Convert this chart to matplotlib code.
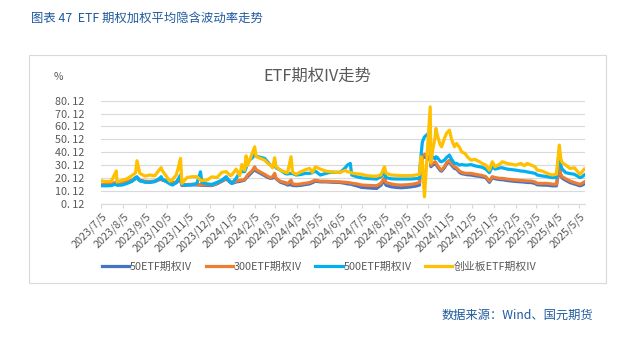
import matplotlib
matplotlib.use("Agg")
import matplotlib.pyplot as plt
from matplotlib.patches import Rectangle
import pandas as pd

plt.rcParams['font.family'] = ['Noto Sans CJK SC', 'DejaVu Sans']

# ---- data ----
dates_2023 = ['2023-07-05', '2023-07-12', '2023-07-19', '2023-07-26', '2023-07-27',
              '2023-08-03', '2023-08-10', '2023-08-17', '2023-08-22', '2023-08-24', '2023-08-28',
              '2023-09-04', '2023-09-11', '2023-09-18', '2023-09-25', '2023-09-27', '2023-09-28',
              '2023-10-09', '2023-10-13', '2023-10-18', '2023-10-20', '2023-10-24', '2023-10-26',
              '2023-11-02', '2023-11-09', '2023-11-16', '2023-11-21', '2023-11-23', '2023-11-30',
              '2023-12-07', '2023-12-14', '2023-12-21', '2023-12-27']
dates_2024 = ['2024-01-02', '2024-01-04', '2024-01-10', '2024-01-15', '2024-01-18', '2024-01-22',
              '2024-01-24', '2024-01-26',
              '2024-02-02', '2024-02-05', '2024-02-07', '2024-02-19', '2024-02-23', '2024-02-27',
              '2024-03-01', '2024-03-04', '2024-03-06', '2024-03-12', '2024-03-19', '2024-03-22',
              '2024-03-27', '2024-03-29',
              '2024-04-03', '2024-04-10', '2024-04-16', '2024-04-22', '2024-04-26', '2024-04-30',
              '2024-05-07', '2024-05-14', '2024-05-21', '2024-05-28',
              '2024-06-04', '2024-06-11', '2024-06-14', '2024-06-18', '2024-06-20', '2024-06-27',
              '2024-07-04', '2024-07-11', '2024-07-18', '2024-07-25', '2024-07-31',
              '2024-08-05', '2024-08-07', '2024-08-14', '2024-08-21', '2024-08-28',
              '2024-09-04', '2024-09-11', '2024-09-18', '2024-09-23', '2024-09-24', '2024-09-25',
              '2024-09-26', '2024-09-27', '2024-09-30',
              '2024-10-08', '2024-10-09', '2024-10-11', '2024-10-15', '2024-10-16', '2024-10-18',
              '2024-10-22', '2024-10-24', '2024-10-28', '2024-10-31',
              '2024-11-04', '2024-11-07', '2024-11-11', '2024-11-14', '2024-11-18', '2024-11-21',
              '2024-11-26', '2024-11-29',
              '2024-12-04', '2024-12-10', '2024-12-16', '2024-12-20', '2024-12-25', '2024-12-30']
dates_2025 = ['2025-01-03', '2025-01-07', '2025-01-14', '2025-01-17', '2025-01-24',
              '2025-02-05', '2025-02-12', '2025-02-17', '2025-02-21', '2025-02-27',
              '2025-03-04', '2025-03-07', '2025-03-14', '2025-03-21', '2025-03-28',
              '2025-04-03', '2025-04-07', '2025-04-09', '2025-04-11', '2025-04-16', '2025-04-22',
              '2025-04-28',
              '2025-05-06', '2025-05-09', '2025-05-12']

# 创业板ETF期权IV
cyb_iv = [17.9, 17.3, 17.6, 25.5, 17.0,
          18.2, 19.5, 22.0, 24.0, 33.5, 23.7,
          21.6, 22.4, 21.8, 27.0, 28.1, 26.2,
          17.6, 19.0, 22.4, 26.2, 35.3, 15.9,
          20.4, 21.1, 21.1, 18.5, 18.0, 18.4,
          21.0, 20.4, 24.5, 25.0,
          21.9, 22.5, 27.0, 21.9, 30.6, 26.2, 37.3, 29.7,
          40.0, 44.3, 36.6, 34.0, 31.7, 30.1,
          28.0, 35.8, 28.8, 26.2, 24.5, 24.2, 36.6, 24.5,
          23.0, 25.0, 26.5, 27.5, 24.5, 28.8,
          27.0, 25.5, 25.0, 24.5,
          24.5, 26.0, 25.0, 24.5, 24.0, 23.3,
          22.9, 22.0, 21.5, 21.5, 22.4,
          28.8, 23.7, 22.4, 22.2, 21.9,
          21.9, 21.9, 22.4, 22.9, 30.0, 36.6, 36.0, 33.0, 5.5,
          75.3, 32.0, 40.0, 52.0, 58.6, 53.4, 46.0, 44.3, 50.8, 55.0,
          57.2, 50.0, 44.3, 46.9, 44.0, 40.4, 39.0, 36.6,
          34.0, 34.5, 32.7, 31.4, 30.0, 26.2,
          32.7, 28.8, 31.0, 32.7, 31.4,
          30.1, 31.4, 29.6, 31.4, 30.0,
          28.8, 26.2, 25.5, 23.7, 22.4,
          23.0, 45.6, 35.3, 32.0, 30.1, 27.5, 28.0,
          23.0, 25.0, 27.0]

# 500ETF期权IV
e500_iv = [14.1, 14.0, 14.2, 15.5, 14.4,
           14.6, 15.8, 17.5, 20.5, 21.1, 18.0,
           16.8, 16.6, 17.3, 20.0, 21.1, 19.5,
           15.5, 14.6, 16.5, 18.4, 22.4, 15.1,
           14.6, 14.8, 15.9, 24.9, 16.6, 15.5,
           15.1, 16.6, 18.4, 21.1,
           16.5, 15.9, 19.8, 24.5, 25.0, 25.0, 28.0, 32.7,
           36.0, 38.3, 37.0, 35.3, 32.7, 30.1,
           29.6, 29.6, 28.0, 26.2, 23.5, 23.2, 23.7, 23.5,
           22.4, 22.8, 23.7, 23.7, 24.2, 25.5,
           22.4, 23.5, 24.5, 24.5,
           24.5, 28.0, 30.1, 31.4, 22.4, 21.1,
           20.2, 19.8, 19.5, 19.3, 21.1,
           24.5, 20.4, 19.5, 19.3, 19.3,
           19.3, 19.3, 19.6, 19.8, 30.0, 36.6, 42.0, 48.0, 52.0,
           56.0, 37.9, 36.6, 35.0, 36.6, 36.0, 33.0, 32.7, 34.0, 36.0,
           37.9, 34.5, 31.4, 31.4, 30.1, 30.5, 30.1, 30.1,
           30.5, 29.5, 28.8, 28.4, 27.0, 24.2,
           28.8, 27.0, 28.0, 28.0, 27.0,
           26.2, 25.5, 25.3, 24.8, 24.2,
           23.7, 22.4, 21.7, 21.1, 20.4,
           20.4, 41.0, 30.0, 27.0, 24.2, 23.5, 23.0,
           20.4, 21.0, 22.4]

# 300ETF期权IV
e300_iv = [15.1, 15.3, 15.8, 16.8, 16.0,
           16.4, 17.2, 18.5, 20.0, 20.4, 18.5,
           17.6, 17.4, 17.8, 19.5, 19.8, 19.0,
           17.0, 16.4, 17.0, 18.0, 19.5, 14.6,
           15.0, 15.2, 15.1, 15.0, 14.8, 14.8,
           14.6, 16.0, 18.0, 19.8,
           17.5, 16.6, 17.5, 18.4, 18.4, 19.0, 20.5, 22.4,
           26.0, 28.8, 26.5, 22.9, 21.5, 20.4,
           21.0, 23.7, 19.8, 17.5, 16.6, 15.6, 18.4, 15.5,
           15.1, 15.5, 16.0, 16.5, 17.5, 18.4,
           17.6, 17.6, 17.4, 17.2,
           17.1, 16.8, 16.6, 16.3, 16.0, 15.5,
           14.6, 14.4, 14.2, 14.1, 16.0,
           20.4, 16.6, 15.5, 14.8, 14.6,
           14.8, 15.1, 15.8, 16.6, 27.0, 31.4, 34.0, 37.0, 38.5,
           36.0, 30.1, 31.4, 32.7, 32.0, 30.0, 27.0, 26.2, 29.0, 32.0,
           34.0, 31.0, 28.8, 28.0, 25.5, 24.5, 23.7, 23.7,
           23.7, 23.0, 22.4, 22.0, 21.1, 17.7,
           21.1, 20.4, 19.8, 19.8, 19.2,
           18.5, 18.2, 18.0, 17.8, 17.7,
           17.0, 15.9, 15.9, 15.9, 15.3,
           15.2, 29.8, 23.0, 21.1, 19.5, 17.7, 16.5,
           15.2, 16.0, 17.0]

# 50ETF期权IV
e50_iv = [14.3, 14.4, 14.8, 15.8, 15.2,
          15.6, 16.4, 17.8, 19.5, 20.0, 18.0,
          17.2, 17.0, 17.4, 19.0, 19.4, 18.6,
          16.5, 15.8, 16.4, 17.5, 18.8, 14.2,
          14.6, 14.8, 14.7, 14.6, 14.4, 14.3,
          14.2, 15.5, 17.5, 19.3,
          16.8, 15.9, 17.0, 17.5, 17.8, 18.5, 20.0, 21.1,
          25.0, 27.0, 25.5, 21.9, 20.6, 19.8,
          20.0, 21.5, 19.5, 16.8, 15.5, 14.6, 15.0, 14.3,
          14.1, 14.4, 15.0, 15.5, 16.5, 17.6,
          17.1, 17.1, 16.9, 16.7,
          16.6, 15.9, 15.5, 15.3, 15.0, 14.0,
          12.8, 12.5, 12.2, 12.0, 14.5,
          18.4, 14.5, 13.3, 12.8, 12.5,
          12.8, 13.2, 13.8, 14.6, 25.0, 30.0, 33.0, 35.5, 36.5,
          34.5, 28.8, 30.0, 31.4, 30.8, 29.0, 26.0, 25.4, 28.0, 31.0,
          32.7, 30.0, 27.5, 27.0, 24.5, 23.5, 22.9, 22.6,
          22.4, 21.8, 21.4, 21.0, 20.2, 16.7,
          20.2, 19.5, 18.8, 18.8, 18.1,
          17.4, 17.1, 16.9, 16.6, 16.5,
          15.8, 14.8, 14.6, 14.5, 14.0,
          14.0, 28.5, 22.0, 20.0, 18.3, 16.5, 15.4,
          14.0, 14.6, 15.5]

series_names = ['50ETF期权IV', '300ETF期权IV', '500ETF期权IV', '创业板ETF期权IV']
y_ticks = [0.12, 10.12, 20.12, 30.12, 40.12, 50.12, 60.12, 70.12, 80.12]
x_ticks = ['2023-07-05', '2023-08-05', '2023-09-05', '2023-10-05', '2023-11-05', '2023-12-05',
           '2024-01-05', '2024-02-05', '2024-03-05', '2024-04-05', '2024-05-05', '2024-06-05',
           '2024-07-05', '2024-08-05', '2024-09-05', '2024-10-05', '2024-11-05', '2024-12-05',
           '2025-01-05', '2025-02-05', '2025-03-05', '2025-04-05', '2025-05-05']

df = pd.DataFrame({
    'date': pd.to_datetime(dates_2023 + dates_2024 + dates_2025),
    '50ETF期权IV': e50_iv,
    '300ETF期权IV': e300_iv,
    '500ETF期权IV': e500_iv,
    '创业板ETF期权IV': cyb_iv,
})

colors = ['#4472C4', '#ED7D31', '#00B0F0', '#FFC000']
grey_text = '#595959'
grid_col = '#D9D9D9'
blue_title = '#1F5A9E'

fig = plt.figure(figsize=(6.27, 3.45), dpi=100)

# outer chart frame
fig.patches.append(Rectangle((29 / 627, 1 - 283 / 345), 577 / 627, 228 / 345,
                             transform=fig.transFigure, fill=False,
                             edgecolor=grid_col, linewidth=0.8))

ax = fig.add_axes([101.3 / 627, 1 - 203.7 / 345, 483.7 / 627, 103 / 345])
for name, c in zip(series_names, colors):
    ax.plot(df['date'], df[name], color=c, linewidth=2.3, label=name,
            solid_joinstyle='round')

ax.set_ylim(0.12, 80.12)
ax.set_yticks(y_ticks)
# labels as they appear in the picture (wide full stop)
ax.set_yticklabels([('%.2f' % v).replace('.', '. ') for v in y_ticks])
ax.yaxis.grid(True, color=grid_col, linewidth=0.8)
ax.set_axisbelow(True)

tick_dates = pd.to_datetime(x_ticks)
ax.set_xlim(pd.Timestamp('2023-07-05'), pd.Timestamp('2025-05-13'))
ax.set_xticks(tick_dates)
ax.set_xticklabels(['%d/%d/%d' % (d.year, d.month, d.day) for d in tick_dates],
                   rotation=45, ha='right', va='top', rotation_mode='anchor')

for s in ['top', 'right', 'left']:
    ax.spines[s].set_visible(False)
ax.spines['bottom'].set_color(grid_col)
ax.spines['bottom'].set_linewidth(0.8)
ax.tick_params(axis='x', colors=grid_col, length=3, width=0.8, labelsize=7.8,
               labelcolor=grey_text, pad=2)
ax.tick_params(axis='y', length=0, labelsize=7.8, labelcolor=grey_text, pad=12)

# texts
fig.text(31 / 627, 1 - 18 / 345, '图表 47  ETF 期权加权平均隐含波动率走势',
         color=blue_title, fontsize=8.9, ha='left', va='center')
fig.text(317 / 627, 1 - 76 / 345, 'ETF期权IV走势', color=grey_text, fontsize=11.8,
         ha='center', va='center')
fig.text(58 / 627, 1 - 77 / 345, '%', color=grey_text, fontsize=7.5,
         ha='center', va='center')
fig.text(593 / 627, 1 - 315 / 345, '数据来源：Wind、国元期货', color=blue_title,
         fontsize=8.8, ha='right', va='center')

fig.legend(loc='center', bbox_to_anchor=(319 / 627, 1 - 267 / 345), ncol=4,
           frameon=False, fontsize=7.8, labelcolor=grey_text, handlelength=2.5,
           handletextpad=0.1, columnspacing=1.25)

fig.savefig('out.png', dpi=100)
